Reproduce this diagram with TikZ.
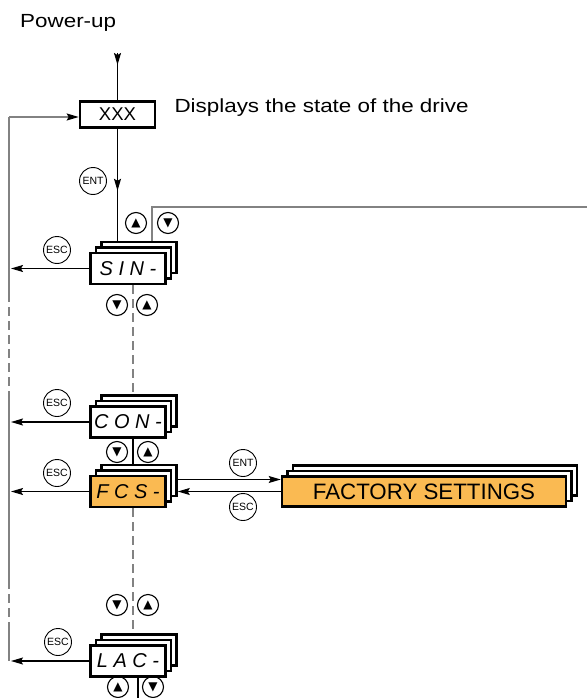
\documentclass[tikz,border=0pt]{standalone}
\usepackage{fontspec}
\setmainfont{Liberation Sans}
\newfontfamily\widefont[FakeStretch=1.18]{Liberation Sans}
\newfontfamily\symfont{DejaVu Sans}
\usetikzlibrary{arrows.meta, calc, shadows, decorations.markings}
\definecolor{fcsorange}{RGB}{250,186,82}
\definecolor{loopgray}{RGB}{130,130,130}

\begin{document}
\begin{tikzpicture}[
            x=1pt, y=-1pt,
            >={Stealth[length=12pt, width=7pt, inset=2pt]},
            lbl/.style={inner sep=0pt, font=\widefont\fontsize{19}{22}\selectfont},
            xbox/.style={draw, line width=2.6pt, minimum width=75pt, minimum height=26pt, font=\fontsize{18.5}{20}\selectfont},
            disp/.style={draw, line width=2.6pt, fill=white, minimum width=75pt, minimum height=31pt,
                font=\fontsize{20}{22}\selectfont\itshape,
                general shadow={shadow xshift=11pt, shadow yshift=11pt, fill=white, draw=black, line width=2.6pt},
                general shadow={shadow xshift=5.5pt, shadow yshift=5.5pt, fill=white, draw=black, line width=2.6pt}},
            btn/.style={circle, draw, line width=1.1pt, minimum size=21pt, inner sep=0pt, font=\symfont\fontsize{12}{12}\selectfont},
            key/.style={circle, draw, line width=0.9pt, minimum size=27pt, inner sep=0pt, font=\fontsize{10.5}{10.5}\selectfont},
            link/.style={line width=1.2pt},
            loopline/.style={draw=loopgray, line width=1.5pt},
            menu/.style={draw=loopgray, line width=1.2pt, dash pattern=on 9pt off 5pt},
            midtip/.style={postaction={decorate}, decoration={markings, mark=at position #1 with {\arrow{>}}}}
        ]
            \useasboundingbox (0,0) rectangle (587,698);

            % --- power-up and state ---
            \node[lbl, anchor=base west] (pwr) at (20,28) {Power-up};
            \coordinate (pwrtop) at (117.5,53);
            \node[xbox] (xxx) at (117.5,114.5) {XXX};
            \node[lbl, anchor=base west] (state) at ($(xxx.east)+(18,-1.5)$) {Displays the state of the drive};

            % --- menu stacks ---
            \node[disp] (sin) at (128,268.5) {S I N -};
            \node[disp] (con) at (128,422) {C O N -};
            \node[disp, fill=fcsorange] (fcs) at (128,491.5) {F C S -};
            \node[disp] (lac) at (128,661) {L A C -};
            \node[disp, fill=fcsorange, minimum width=284pt, minimum height=30pt, font=\fontsize{22.3}{24}\selectfont] (fact) at (424,491.5) {FACTORY SETTINGS};

            % --- keys ---
            \node[key] (ent1) at (93,181) {ENT};
            \node[key] (esc1) at (57,250) {ESC};
            \node[key] (esc2) at (57,403) {ESC};
            \node[key] (esc3) at (57,473) {ESC};
            \node[key] (esc4) at (58,642) {ESC};
            \node[key] (ent2) at (243,463) {ENT};
            \node[key] (esc5) at (243,507) {ESC};

            \node[btn] (up1) at (136,223) {▲};
            \node[btn] (dn1) at (168,223) {▼};
            \node[btn] (dn2) at (117,305) {▼};
            \node[btn] (up2) at (147,305) {▲};
            \node[btn] (dn3) at (117,452) {▼};
            \node[btn] (up3) at (148,452) {▲};
            \node[btn] (dn4) at (117,605) {▼};
            \node[btn] (up4) at (148,605) {▲};
            \node[btn] (up5) at (118,687) {▲};
            \node[btn] (dn5) at (153,687) {▼};

            % --- links ---
            \coordinate (sintop) at ([yshift=11pt]sin.north);
            \coordinate (sinr) at ([xshift=24pt]sintop);
            \coordinate (fcsback) at ([xshift=11pt]fcs.east);
            \coordinate (edge) at (587,207);
            \coordinate (lt) at (9,117);
            \coordinate (lacbot) at (138,698);

            \draw[link, midtip=12pt] (pwrtop) -- (pwrtop |- xxx.north);
            \draw[link, midtip=62pt] (xxx.south) -- (xxx.south |- sintop);
            \draw[loopline] (sinr) |- (edge);
            \draw[menu] ([xshift=5pt]sin.south) -- ([xshift=5pt, yshift=11pt]con.north);
            \draw[link] ([xshift=5pt]con.south) -- ([xshift=5pt, yshift=11pt]fcs.north);
            \draw[menu] ([xshift=5pt]fcs.south) -- ([xshift=5pt, yshift=11pt]lac.north);
            \draw[link] ([xshift=10pt]lac.south) -- (lacbot);

            \draw[link, ->] ([yshift=12pt]fcsback) -- ([yshift=12pt]fcsback -| fact.west);
            \draw[link, ->] (fact.west) -- (fact.west -| fcsback);

            % --- return line on the left ---
            \draw[loopline, -{Stealth[length=12pt, width=7pt, inset=2pt, color=black]}] (lt) -- (lt -| xxx.west);
            \draw[loopline] (lt) -- (9,293);
            \draw[loopline, dash pattern=on 9pt off 5pt] (9,293) -- (9,392);
            \draw[loopline] (9,392) -- (9,580);
            \draw[loopline, dash pattern=on 9pt off 5pt] (9,580) -- (9,628);
            \draw[loopline] (9,628) -- (9,661);
            \foreach \m in {sin, con, fcs, lac}
                \draw[link, ->, shorten >=2pt] (\m.west) -- (\m.west -| lt);

        \end{tikzpicture}
\end{document}
